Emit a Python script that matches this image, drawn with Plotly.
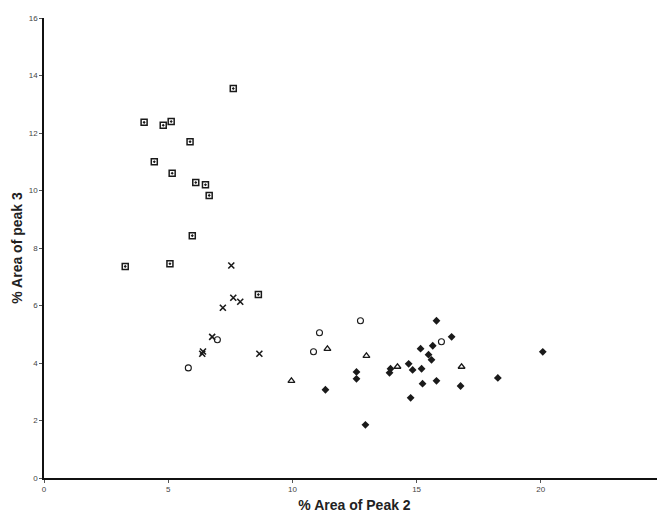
import plotly.graph_objects as go

# % Area of Peak 2 (x) and % Area of peak 3 (y), per sample group
sq_x = [7.62, 4.03, 4.80, 5.12, 5.88, 4.44, 5.16, 6.11, 6.50, 6.65, 5.97, 3.27, 5.07, 8.63]
sq_y = [13.55, 12.37, 12.27, 12.40, 11.70, 11.00, 10.60, 10.28, 10.20, 9.83, 8.43, 7.36, 7.45, 6.38]

cross_x = [7.54, 7.62, 7.90, 7.20, 6.77, 6.37, 6.40, 8.67]
cross_y = [7.39, 6.27, 6.13, 5.92, 4.91, 4.32, 4.40, 4.32]

circ_x = [6.98, 5.81, 11.09, 10.85, 12.74, 16.00]
circ_y = [4.81, 3.83, 5.05, 4.39, 5.47, 4.74]

tri_x = [11.41, 9.96, 12.98, 14.23, 16.81]
tri_y = [4.49, 3.38, 4.25, 3.87, 3.87]

dia_x = [11.33, 15.80, 16.41, 15.65, 15.16, 15.48, 15.60, 14.68, 14.84, 15.20, 13.95, 13.91,
         12.58, 12.58, 15.24, 15.80, 16.77, 14.76, 12.94, 18.27, 20.08]
dia_y = [3.07, 5.47, 4.91, 4.60, 4.50, 4.29, 4.11, 3.97, 3.76, 3.80, 3.80, 3.66,
         3.69, 3.45, 3.28, 3.38, 3.20, 2.79, 1.85, 3.48, 4.39]

ink = '#1a1a1a'

fig = go.Figure()
fig.add_trace(go.Scatter(x=sq_x, y=sq_y, mode='markers',
                         marker=dict(symbol='square-open-dot', size=6, color=ink,
                                     line=dict(width=1.5, color=ink))))
fig.add_trace(go.Scatter(x=cross_x, y=cross_y, mode='markers',
                         marker=dict(symbol='x-thin-open', size=6, color=ink,
                                     line=dict(width=1.6, color=ink))))
fig.add_trace(go.Scatter(x=circ_x, y=circ_y, mode='markers',
                         marker=dict(symbol='circle-open', size=6, color=ink,
                                     line=dict(width=1.1, color=ink))))
fig.add_trace(go.Scatter(x=tri_x, y=tri_y, mode='markers',
                         marker=dict(symbol='triangle-up-open', size=6, color=ink,
                                     line=dict(width=1.3, color=ink))))
fig.add_trace(go.Scatter(x=dia_x, y=dia_y, mode='markers',
                         marker=dict(symbol='diamond', size=6, color=ink)))

fig.update_layout(
    width=665, height=518,
    paper_bgcolor='white', plot_bgcolor='white',
    showlegend=False,
    margin=dict(l=36, r=8, t=10, b=48),
    font=dict(family='Liberation Sans, Arial, sans-serif', color='#333'),
    xaxis=dict(range=[0, 25], tickvals=[0, 5, 10, 15, 20, 25],
               showgrid=False, zeroline=False, showline=True, linecolor='#111', linewidth=1.5,
               ticks='outside', ticklen=3, tickcolor='#555', tickfont=dict(size=8, color='#444'),
               automargin=False,
               title=dict(text='<b>% Area of Peak 2</b>', font=dict(size=14, color='#222'), standoff=7)),
    yaxis=dict(range=[0, 16], tickvals=[0, 2, 4, 6, 8, 10, 12, 14, 16],
               showgrid=False, zeroline=False, showline=True, linecolor='#111', linewidth=1.5,
               ticks='outside', ticklen=3, tickcolor='#555', tickfont=dict(size=8, color='#444'),
               automargin=False,
               title=dict(text='<b>% Area of peak 3</b>', font=dict(size=14, color='#222'), standoff=3)),
)

fig.write_html("out.html")
